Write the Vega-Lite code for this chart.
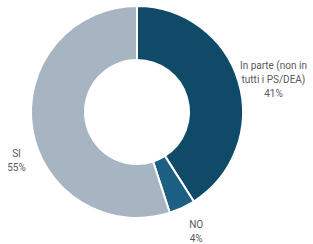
{
  "$schema": "https://vega.github.io/schema/vega-lite/v6.json",
  "width": 274,
  "height": 224,
  "autosize": {"type": "none"},
  "padding": {"left": 0, "top": 0, "right": 39, "bottom": 20},
  "background": "white",
  "config": {"view": {"stroke": null}},
  "data": {
    "values": [
      {"cat": "In parte (non in tutti i PS/DEA)", "label": "In parte (non in\ntutti i PS/DEA)\n41%", "value": 41, "ord": 1},
      {"cat": "NO", "label": "NO\n4%", "value": 4, "ord": 2},
      {"cat": "SI", "label": "SI\n55%", "value": 55, "ord": 3}
    ]
  },
  "encoding": {
    "theta": {"field": "value", "type": "quantitative", "stack": true},
    "order": {"field": "ord", "type": "quantitative", "sort": "ascending"}
  },
  "layer": [
    {
      "mark": {"type": "arc", "outerRadius": 106, "innerRadius": 52, "stroke": "white", "strokeWidth": 2},
      "encoding": {
        "color": {
          "field": "cat", "type": "nominal", "legend": null,
          "scale": {"domain": ["In parte (non in tutti i PS/DEA)", "NO", "SI"], "range": ["#0f4b68", "#1d5f82", "#a6b5c1"]}
        }
      }
    },
    {
      "mark": {"type": "text", "radius": 140, "dx": 2, "dy": -7, "font": "Roboto", "fontSize": 10, "color": "#595959", "lineBreak": "\n", "lineHeight": 14, "align": "center", "baseline": "middle"},
      "encoding": {"text": {"condition": {"test": "datum.cat === 'In parte (non in tutti i PS/DEA)'", "field": "label"}, "value": ""}}
    },
    {
      "mark": {"type": "text", "radius": 132, "dx": 3, "dy": -6, "font": "Roboto", "fontSize": 10, "color": "#595959", "lineBreak": "\n", "lineHeight": 14, "align": "center", "baseline": "middle"},
      "encoding": {"text": {"condition": {"test": "datum.cat === 'NO'", "field": "label"}, "value": ""}}
    },
    {
      "mark": {"type": "text", "radius": 122, "dy": 23, "font": "Roboto", "fontSize": 10, "color": "#595959", "lineBreak": "\n", "lineHeight": 14, "align": "center", "baseline": "middle"},
      "encoding": {"text": {"condition": {"test": "datum.cat === 'SI'", "field": "label"}, "value": ""}}
    }
  ]
}
